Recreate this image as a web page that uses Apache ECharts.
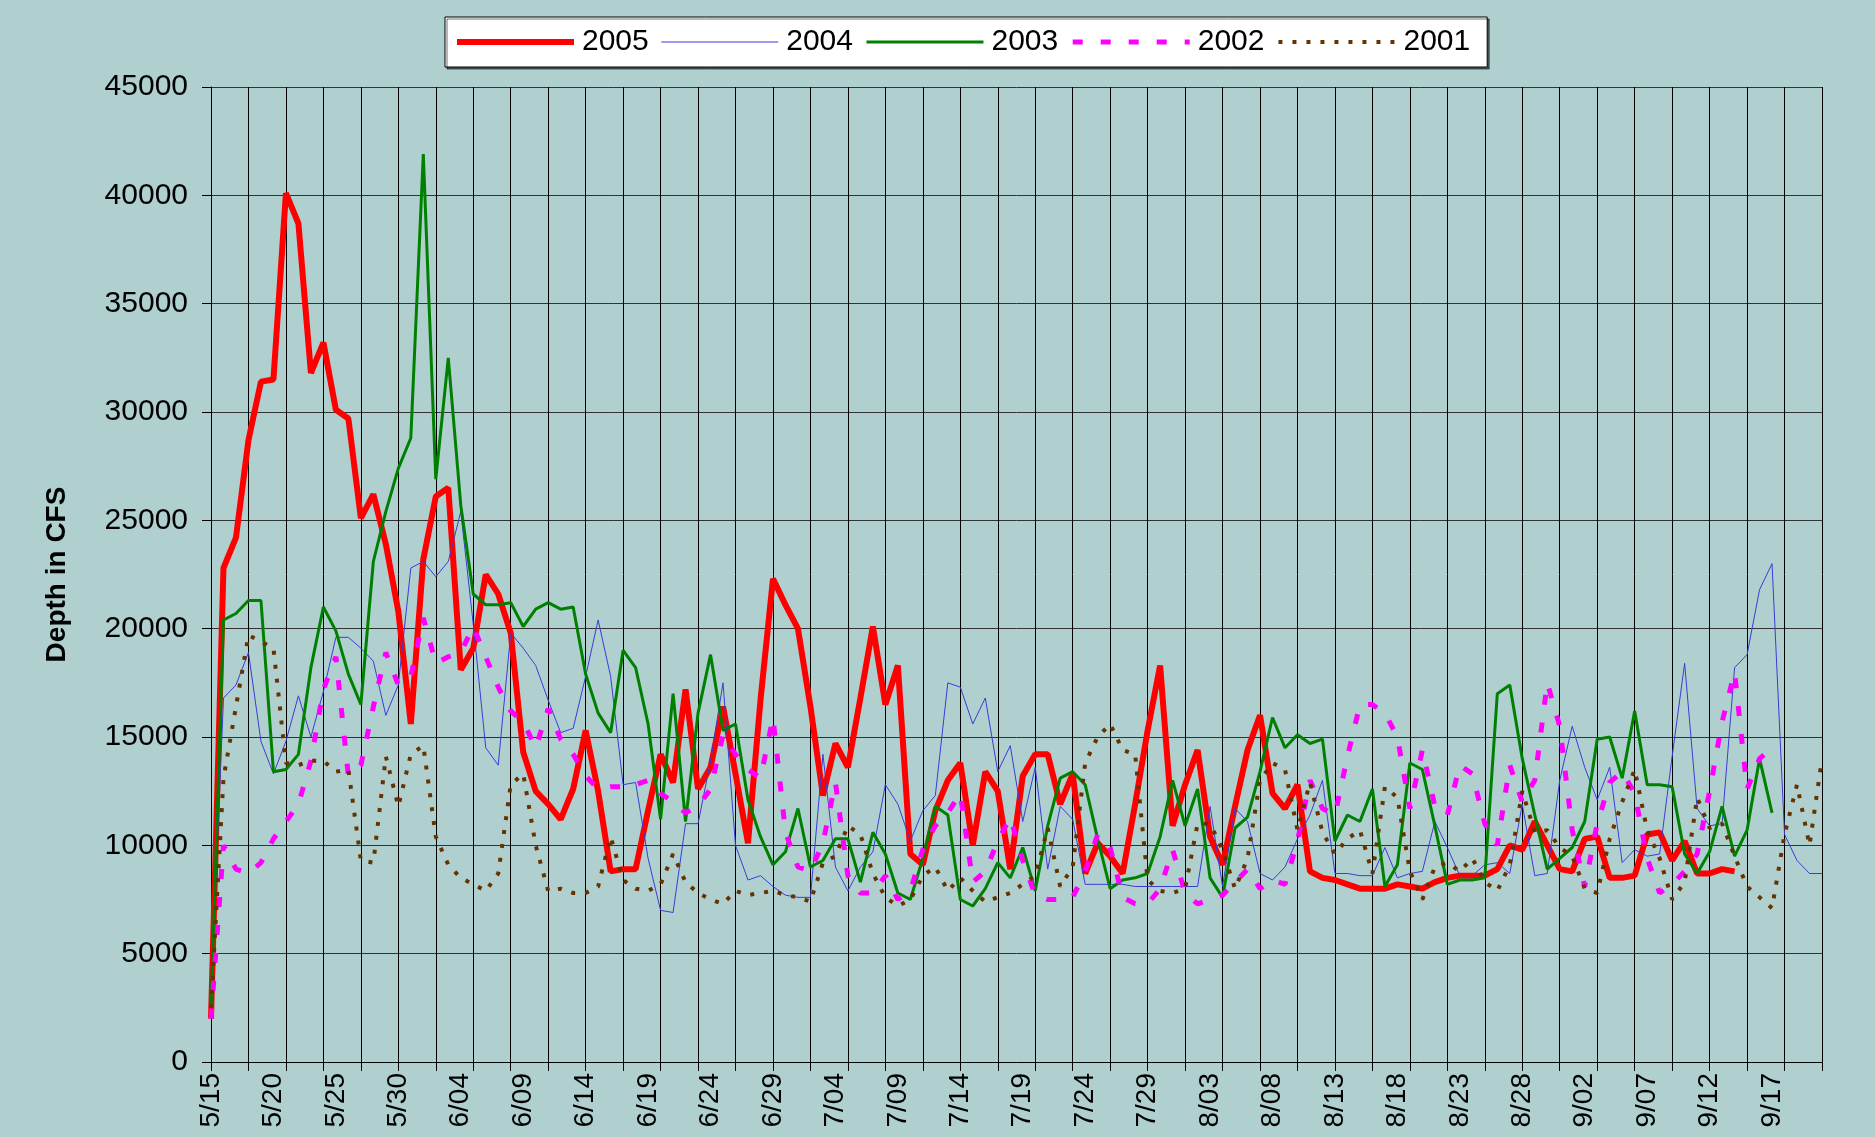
<!DOCTYPE html>
<html>
<head>
<meta charset="utf-8">
<title>Depth in CFS 2001-2005</title>
<script src="https://cdn.jsdelivr.net/npm/echarts@6/dist/echarts.min.js"></script>
<style>
	html, body { margin: 0; padding: 0; background: #B0D0D0; }
	#main { width: 1875px; height: 1137px; }
</style>
</head>
<body>
<div id="main"></div>
<script>
	// 日期 5/15 - 9/21
	var days = [
		"5/15", "5/16", "5/17", "5/18", "5/19", "5/20", "5/21", "5/22", "5/23", "5/24", "5/25", "5/26", "5/27", "5/28", "5/29", "5/30", "5/31",
		"6/01", "6/02", "6/03", "6/04", "6/05", "6/06", "6/07", "6/08", "6/09", "6/10", "6/11", "6/12", "6/13", "6/14", "6/15",
		"6/16", "6/17", "6/18", "6/19", "6/20", "6/21", "6/22", "6/23", "6/24", "6/25", "6/26", "6/27", "6/28", "6/29", "6/30",
		"7/01", "7/02", "7/03", "7/04", "7/05", "7/06", "7/07", "7/08", "7/09", "7/10", "7/11", "7/12", "7/13", "7/14", "7/15", "7/16",
		"7/17", "7/18", "7/19", "7/20", "7/21", "7/22", "7/23", "7/24", "7/25", "7/26", "7/27", "7/28", "7/29", "7/30", "7/31",
		"8/01", "8/02", "8/03", "8/04", "8/05", "8/06", "8/07", "8/08", "8/09", "8/10", "8/11", "8/12", "8/13", "8/14", "8/15", "8/16",
		"8/17", "8/18", "8/19", "8/20", "8/21", "8/22", "8/23", "8/24", "8/25", "8/26", "8/27", "8/28", "8/29", "8/30", "8/31",
		"9/01", "9/02", "9/03", "9/04", "9/05", "9/06", "9/07", "9/08", "9/09", "9/10", "9/11", "9/12", "9/13", "9/14", "9/15", "9/16",
		"9/17", "9/18", "9/19", "9/20", "9/21"
	];

	var y2005 = [
		2000, 22800, 24200, 28700, 31400, 31500, 40100, 38700, 31800, 33200, 30100, 29700, 25100, 26200, 23900, 20800, 15600,
		23200, 26100, 26500, 18100, 19100, 22500, 21600, 19800, 14300, 12500, 11900, 11200, 12600, 15300, 12500,
		8800, 8900, 8900, 11600, 14200, 12900, 17200, 12600, 13600, 16400, 13300, 10100, 16700, 22300, 21100,
		20000, 16400, 12300, 14700, 13600, 16800, 20100, 16500, 18300, 9600, 9100, 11600, 13000, 13800, 10000, 13400,
		12500, 8900, 13200, 14200, 14200, 11900, 13300, 8700, 10100, 9500, 8700, 11900, 15300, 18300, 10900,
		12800, 14400, 10400, 9100, 11800, 14400, 16000, 12400, 11700, 12800, 8800, 8500, 8400, 8200, 8000, 8000,
		8000, 8200, 8100, 8000, 8300, 8500, 8600, 8600, 8600, 8900, 10000, 9800, 11100, 10000, 8900,
		8800, 10300, 10400, 8500, 8500, 8600, 10500, 10600, 9300, 10200, 8700, 8700, 8900, 8800, null, null,
		null, null, null, null, null
	];

	var y2004 = [
		3000, 16800, 17400, 18900, 14800, 13300, 14800, 16900, 15000, 17100, 19600, 19600, 19100, 18500, 16000, 17400, 22800,
		23100, 22400, 23100, 25400, 20200, 14500, 13700, 19800, 19100, 18300, 16700, 15200, 15400, 17800, 20400,
		17800, 12800, 12900, 9400, 7000, 6900, 11000, 11000, 13900, 17500, 10000, 8400, 8600, 8100, 7700,
		7600, 7600, 14200, 9000, 7900, 9000, 9700, 12800, 11900, 10200, 11600, 12300, 17500, 17300, 15600, 16800,
		13400, 14600, 11100, 13600, 8900, 11800, 11200, 8200, 8200, 8200, 8200, 8100, 8100, 8100, 8100,
		8100, 8100, 11800, 8100, 11700, 11100, 8700, 8400, 9000, 10300, 11400, 13000, 8700, 8700, 8600, 8600,
		9900, 8500, 8700, 8800, 11100, 9900, 8600, 8600, 9100, 9200, 8700, 11900, 8600, 8700, 13000,
		15500, 13600, 12100, 13600, 9200, 9800, 9500, 9600, 14100, 18400, 11700, 10900, 11000, 18200, 18800, 21800,
		23000, 10500, 9300, 8700, 8700
	];

	var y2003 = [
		2500, 20400, 20700, 21300, 21300, 13400, 13500, 14200, 18200, 21000, 19900, 17900, 16500, 23100, 25400, 27400, 28800,
		41900, 26900, 32500, 25700, 21600, 21100, 21100, 21200, 20100, 20900, 21200, 20900, 21000, 17900, 16100,
		15200, 19000, 18200, 15600, 11200, 17000, 11100, 16100, 18800, 15300, 15600, 12100, 10400, 9100, 9700,
		11700, 9000, 9300, 10300, 10300, 8300, 10600, 9600, 7800, 7500, 9400, 11800, 11400, 7500, 7200, 8000,
		9200, 8500, 9900, 7900, 10900, 13100, 13400, 12800, 10300, 8000, 8400, 8500, 8700, 10400, 13000,
		10900, 12600, 8500, 7600, 10800, 11300, 13400, 15900, 14500, 15100, 14700, 14900, 10200, 11400, 11100, 12600,
		8100, 9100, 13800, 13500, 10900, 8200, 8400, 8400, 8500, 17000, 17400, 14000, 11400, 8900, 9400,
		9900, 11100, 14900, 15000, 13100, 16200, 12800, 12800, 12700, 9600, 8700, 9700, 11800, 9500, 10700, 14000,
		11500, null, null, null, null
	];

	var y2002 = [
		2000, 10000, 8900, 8700, 9200, 10300, 11100, 11900, 13900, 17200, 18700, 13200, 13700, 16400, 18900, 17400, 17800,
		20500, 18400, 18700, 18900, 20100, 18700, 17300, 16200, 15700, 14500, 16300, 14900, 14200, 13200, 12600,
		12700, 12700, 12800, 13000, 12400, 12000, 11500, 11800, 12600, 15100, 14200, 13500, 13100, 15900, 10600,
		9000, 8800, 10100, 12900, 8600, 7800, 7800, 8600, 7500, 7900, 9800, 10900, 11500, 12400, 8300, 8800,
		10200, 11300, 9300, 7700, 7500, 7500, 7600, 8800, 10500, 9900, 7600, 7300, 7300, 8000, 9800,
		7800, 7300, 7500, 7700, 8300, 8900, 8000, 8400, 8200, 10200, 13000, 11700, 11400, 14100, 16500, 16500,
		16100, 15000, 11700, 14400, 11800, 11400, 13700, 13300, 11000, 10000, 13700, 12000, 13000, 17500, 15500,
		10700, 8100, 11000, 12900, 13400, 12400, 9400, 7800, 8200, 8800, 9600, 12500, 15700, 18000, 12600, 14000,
		14500, null, null, null, null
	];

	var y2001 = [
		2500, 13100, 16400, 19700, 19400, 19100, 13800, 13700, 13900, 13900, 13400, 13500, 9300, 9200, 14100, 11800, 14200,
		14600, 10400, 9100, 8500, 8200, 7900, 8700, 12800, 13300, 10000, 7900, 8000, 7800, 7800, 8100,
		10400, 8400, 8000, 7900, 8200, 9600, 8300, 7800, 7500, 7300, 7900, 7700, 7800, 7900, 7700,
		7600, 7400, 9200, 9500, 10900, 10500, 8700, 7600, 7200, 7500, 8600, 9000, 7900, 8500, 7900, 7400,
		7600, 7800, 8200, 8600, 10800, 8100, 9000, 13800, 15000, 15600, 14400, 14200, 8400, 7900, 7800,
		8000, 11000, 11000, 9800, 8000, 9400, 13000, 13800, 13500, 10700, 12900, 10600, 9600, 10300, 10700, 8700,
		12700, 12200, 8800, 7500, 9000, 9200, 8800, 9400, 8300, 7900, 9100, 12500, 10600, 10700, 9900,
		9500, 8000, 7800, 10300, 12000, 13500, 10700, 9400, 7500, 8300, 12200, 10800, 11000, 9500, 8100, 7600,
		7100, 10500, 12800, 10000, 14000
	];

	var yTicks = [0, 5000, 10000, 15000, 20000, 25000, 30000, 35000, 40000, 45000];

	var font = '"Liberation Sans", Arial, sans-serif';

	// 每条线的样式: 颜色, 线宽, 线型
	var styles = {
		"2005": { color: '#FF0000', width: 6, type: 'solid' },
		"2004": { color: '#3B3BD6', width: 1, type: 'solid' },
		"2003": { color: '#008000', width: 3, type: 'solid' },
		"2002": { color: '#FF00FF', width: 5, type: [10, 18] },
		"2001": { color: '#663300', width: 4, type: [4, 10] }
	};

	var myChart = echarts.init(document.getElementById('main'));

	function line(name, data) {
		var s = styles[name];
		return {
			name: name,
			type: 'line',
			data: data,
			symbol: 'none',
			showSymbol: false,
			smooth: false,
			connectNulls: false,
			lineStyle: {
				color: s.color,
				width: s.width,
				type: s.type,
				cap: 'butt'
			},
			itemStyle: {
				color: s.color
			}
		};
	};

	function legendItem(name) {
		var s = styles[name];
		return {
			name: name,
			itemStyle: { opacity: 0 },
			lineStyle: {
				color: s.color,
				width: s.width,
				type: s.type,
				cap: 'butt'
			}
		};
	};

	var option = {
		animation: false,
		backgroundColor: '#B0D0D0',
		legend: {
			left: 445,
			top: 17,
			padding: [10, 17, 10, 9],
			itemWidth: 117,
			itemHeight: 2,
			itemGap: 12,
			backgroundColor: '#fff',
			borderColor: '#000',
			borderWidth: 1,
			shadowColor: 'rgba(0,0,0,0.55)',
			shadowOffsetX: 2,
			shadowOffsetY: 2,
			textStyle: {
				fontFamily: font,
				fontSize: 30,
				color: '#000',
				padding: [0, 0, 0, 3]
			},
			data: [legendItem('2005'), legendItem('2004'), legendItem('2003'), legendItem('2002'), legendItem('2001')]
		},
		grid: {
			left: 211,
			right: 53,
			top: 87,
			bottom: 75,
			containLabel: false
		},
		xAxis: {
			type: 'category',
			boundaryGap: false,
			data: days,
			axisLine: {
				lineStyle: { color: '#000', width: 1 }
			},
			axisTick: {
				show: true,
				interval: 2,
				length: 9,
				lineStyle: { color: '#000' }
			},
			axisLabel: {
				interval: 4,
				rotate: 90,
				margin: 11,
				fontFamily: font,
				fontSize: 28,
				color: '#000'
			},
			splitLine: {
				show: true,
				interval: 2,
				lineStyle: { color: '#000', width: 1 }
			}
		},
		yAxis: {
			type: 'value',
			min: yTicks[0],
			max: yTicks[yTicks.length - 1],
			interval: 5000,
			name: 'Depth in CFS',
			nameLocation: 'middle',
			nameRotate: 90,
			nameGap: 140,
			nameTextStyle: {
				fontFamily: font,
				fontSize: 28,
				fontWeight: 'bold',
				color: '#000'
			},
			axisLine: {
				show: true,
				lineStyle: { color: '#000', width: 1 }
			},
			axisTick: {
				show: true,
				length: 9,
				lineStyle: { color: '#000' }
			},
			axisLabel: {
				margin: 23,
				fontFamily: font,
				fontSize: 30,
				color: '#000',
				formatter: function(val) {
					return val + '';
				}
			},
			splitLine: {
				show: true,
				lineStyle: { color: '#333', width: 1 }
			}
		},
		series: [
			line('2005', y2005),
			line('2004', y2004),
			line('2003', y2003),
			line('2002', y2002),
			line('2001', y2001)
		]
	};
	myChart.setOption(option);
</script>
</body>
</html>
